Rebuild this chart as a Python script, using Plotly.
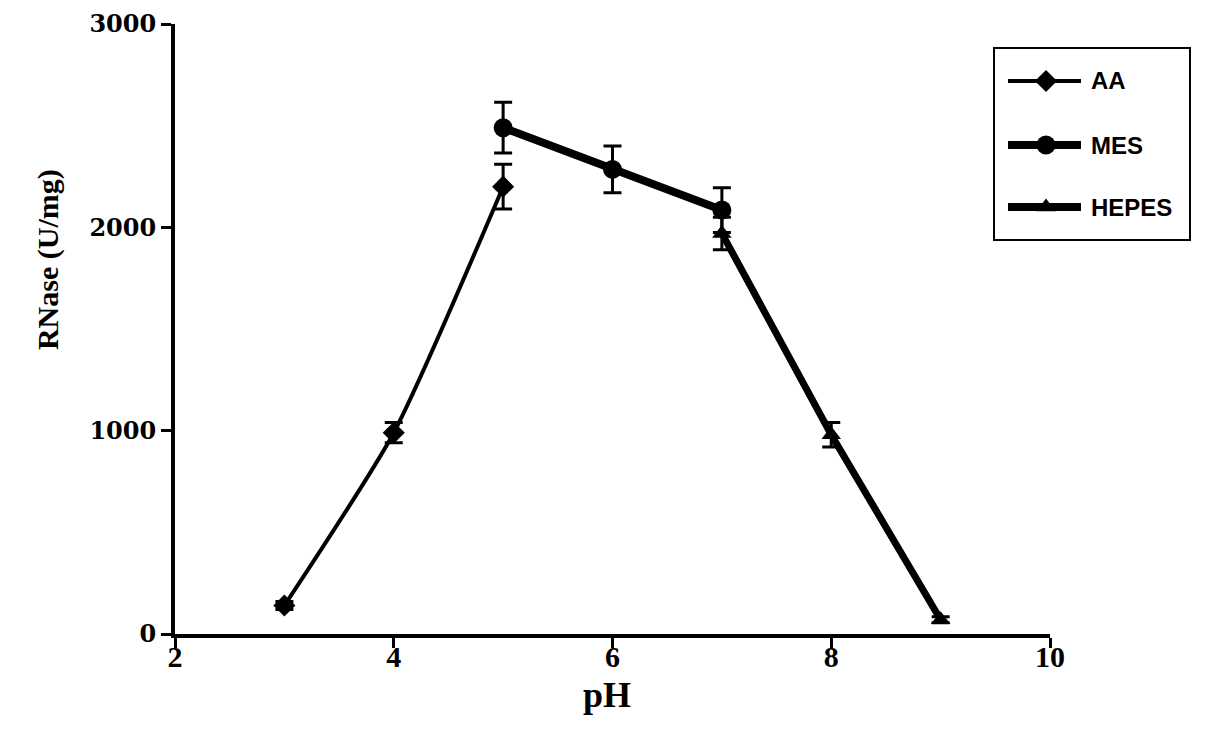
import plotly.graph_objects as go

# Data
ph_aa = [3, 4, 5]
aa = [140, 990, 2200]
aa_err = [20, 50, 110]

ph_mes = [5, 6, 7]
mes = [2490, 2285, 2085]
mes_err = [125, 115, 110]

ph_hepes = [7, 8, 9]
hepes = [1970, 980, 70]
hepes_err = [80, 60, 15]

series_names = ["AA", "MES", "HEPES"]
x_ticks = [2, 4, 6, 8, 10]
y_ticks = [0, 1000, 2000, 3000]

serif = "Liberation Serif, Times New Roman"
sans = "Liberation Sans, Arial"

styles = [
    dict(symbol="diamond", size=17, lw=4, shape="spline"),
    dict(symbol="circle", size=19, lw=8, shape="linear"),
    dict(symbol="triangle-up", size=17, lw=7, shape="linear"),
]

fig = go.Figure()

for name, x, y, err, st in zip(series_names,
                                [ph_aa, ph_mes, ph_hepes],
                                [aa, mes, hepes],
                                [aa_err, mes_err, hepes_err],
                                styles):
    fig.add_trace(go.Scatter(
        x=x, y=y, name=name, showlegend=False,
        mode="lines+markers",
        line=dict(color="black", width=st["lw"], shape=st["shape"], smoothing=0.6),
        marker=dict(symbol=st["symbol"], size=st["size"], color="black",
                    line=dict(color="black", width=0)),
        error_y=dict(type="data", array=err, visible=True,
                     color="black", thickness=3, width=9),
        cliponaxis=False,
    ))

# Legend drawn in its own small overlay axes (pixel-like units)
leg_rows = [81, 145, 207]
leg_lw = [4, 8, 8]
annotations = []
for name, row, st, lw in zip(series_names, leg_rows, styles, leg_lw):
    fig.add_trace(go.Scatter(
        x=[1008, 1081], y=[row, row], xaxis="x2", yaxis="y2",
        mode="lines", showlegend=False, hoverinfo="skip",
        line=dict(color="black", width=lw),
    ))
    fig.add_trace(go.Scatter(
        x=[1046], y=[row], xaxis="x2", yaxis="y2",
        mode="markers", showlegend=False, hoverinfo="skip",
        marker=dict(symbol=st["symbol"], size=st["size"], color="black",
                    opacity=1, line=dict(color="black", width=0)),
    ))
    annotations.append(dict(
        text=f"<b>{name}</b>", xref="x2", yref="y2", x=1089, y=row,
        xanchor="left", yanchor="middle", showarrow=False,
        font=dict(family=sans, size=24, color="black")))

annotations.append(dict(
    text="<b>pH</b>", xref="x", yref="paper", x=6, xshift=-6, y=-0.1,
    xanchor="center", yanchor="middle", showarrow=False,
    font=dict(family=serif, size=36, color="black")))
annotations.append(dict(
    text="<b>RNase (U/mg)</b>", xref="paper", yref="paper",
    x=-0.124, y=0.613, xanchor="center", yanchor="middle",
    textangle=-90, showarrow=False,
    font=dict(family=serif, size=30, color="black")))

fig.update_layout(
    width=1205, height=752,
    margin=dict(l=167, r=14, t=16, b=126),
    paper_bgcolor="white", plot_bgcolor="rgba(0,0,0,0)",
    showlegend=False,
    annotations=annotations,
    shapes=[dict(type="rect", xref="x2", yref="y2",
                 x0=993, x1=1191, y0=47, y1=241,
                 line=dict(color="black", width=4))],
    xaxis=dict(
        domain=[0, 875 / 1024],
        range=[2, 10], tickvals=x_ticks, ticktext=[str(v) for v in x_ticks],
        showline=True, linecolor="black", linewidth=4,
        ticks="outside", ticklen=10, tickwidth=3, tickcolor="black",
        showgrid=False, zeroline=False, automargin=False,
        ticklabelstandoff=-17,
        tickfont=dict(family=serif, size=30, color="black", weight="bold"),
    ),
    yaxis=dict(
        range=[0, 3000], tickvals=y_ticks, ticktext=[str(v) for v in y_ticks],
        showline=True, linecolor="black", linewidth=4,
        ticks="outside", ticklen=10, tickwidth=3, tickcolor="black",
        showgrid=False, zeroline=False, automargin=False,
        tickfont=dict(family="DejaVu Serif", size=24, color="black", weight="bold"),
    ),
    xaxis2=dict(domain=[818 / 1024, 1016 / 1024], range=[993, 1191],
                visible=False, anchor="y2", fixedrange=True),
    yaxis2=dict(domain=[393 / 610, 587 / 610], range=[241, 47],
                visible=False, anchor="x2", fixedrange=True),
)

fig.write_html("out.html")
